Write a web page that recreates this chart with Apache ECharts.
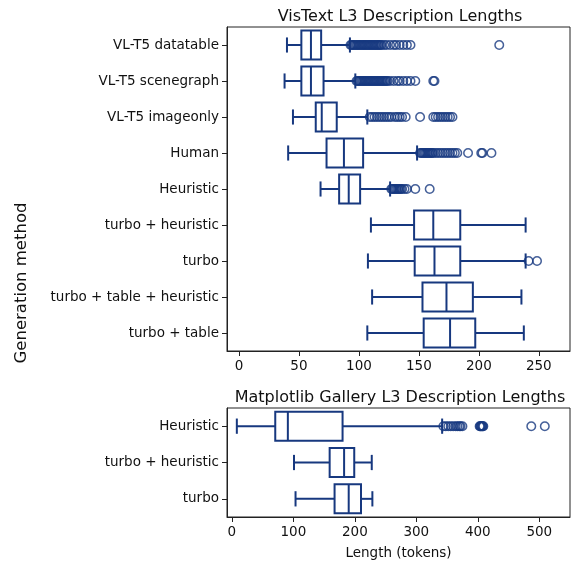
<!DOCTYPE html>
<html>
<head>
<meta charset="utf-8">
<script src="https://cdn.jsdelivr.net/npm/echarts@6/dist/echarts.min.js"></script>
<style>html,body{margin:0;padding:0;background:#fff}#c{width:571px;height:561px}</style>
</head>
<body>
<div id="c"></div>
<script>
// ---- Data: VisText L3 ----
const topCategories = ["VL-T5 datatable","VL-T5 scenegraph","VL-T5 imageonly","Human","Heuristic","turbo + heuristic","turbo","turbo + table + heuristic","turbo + table"];
// [min whisker, Q1, median, Q3, max whisker]
const topStats = [
  [40, 52, 60, 68.5, 92.5],
  [38, 52, 60, 70.5, 97],
  [45, 64, 69, 81.5, 107],
  [41, 73, 87.5, 103.5, 148.5],
  [68, 83.5, 91.5, 101, 126],
  [110, 146, 162, 184.5, 239],
  [107.5, 146.5, 163, 184.5, 239],
  [111, 153, 173, 195, 235.5],
  [107, 154, 176, 197, 237.5]
];
const topOutliers = [
  [93,94,95,96,97,98,99,100,101,102,103,104,105,106,107,108,109,110,111,112,113,114,115,116,117,118,119,121,123,126,129,131,134,137,140,143,217],
  [98,99,100,101,102,103,104,105,106,107,108,109,110,111,112,113,114,115,116,117,118,119,120,121,122,123,124,126,129,132,134,137,140,143,147,162,163],
  [109,111,113,115,117,119,121,123,125,127,130,132,134,136,139,151,162,164,166,168,170,172,174,176,178],
  [151,152,153,154,155,156,157,158,159,160,161,162,164,166,168,170,172,174,176,178,180,182,191,202,203,210.5],
  [127,128,129,130,131,132,133,134,135,136,138,140,147,159],
  [],
  [241.5,248.5],
  [],
  []
];
// ---- Data: Matplotlib Gallery L3 ----
const botCategories = ["Heuristic","turbo + heuristic","turbo"];
const botStats = [
  [8, 70.5, 91, 180, 342],
  [101, 159, 182.5, 199, 227.5],
  [103.5, 167, 190, 210, 228.5]
];
const botOutliers = [
  [344,348,352,356,360,364,367,370,372,375,403,404,405,406,407,408,409,487,509],
  [],
  []
];
const topTicks = [0,50,100,150,200,250];
const botTicks = [0,100,200,300,400,500];

// ---- Build ----
const C = '#17387f';
const FONT = 'DejaVu Sans';
const TICKFS = 13.5;
function boxData(stats){ return stats.map((s,i)=>[i].concat(s)); }
function outData(outs){ const r=[]; outs.forEach((arr,i)=>arr.forEach(v=>r.push([v,i]))); return r; }
function renderBox(params, api){
  const cat = api.value(0);
  const v = [1,2,3,4,5].map(i=>api.value(i));
  const band = api.size([0,1])[1];
  const h = band*0.8, ch = band*0.42;
  const p = v.map(x=>api.coord([x,cat]));
  const y = p[0][1];
  const st = {stroke:C, lineWidth:2, fill:null};
  return {type:'group', children:[
    {type:'line', shape:{x1:p[0][0],y1:y,x2:p[1][0],y2:y}, style:st},
    {type:'line', shape:{x1:p[3][0],y1:y,x2:p[4][0],y2:y}, style:st},
    {type:'line', shape:{x1:p[0][0],y1:y-ch/2,x2:p[0][0],y2:y+ch/2}, style:st},
    {type:'line', shape:{x1:p[4][0],y1:y-ch/2,x2:p[4][0],y2:y+ch/2}, style:st},
    {type:'rect', shape:{x:p[1][0],y:y-h/2,width:p[3][0]-p[1][0],height:h}, style:{stroke:C,lineWidth:2,fill:'#fff'}},
    {type:'line', shape:{x1:p[2][0],y1:y-h/2,x2:p[2][0],y2:y+h/2}, style:st}
  ]};
}
const axisLineStyle = {show:true, onZero:false, lineStyle:{color:'#222', width:1}};
function xAx(idx, min, max, ticks, extra){
  return Object.assign({
    type:'value', gridIndex:idx, min:min, max:max,
    splitLine:{show:false},
    axisLine:axisLineStyle,
    axisTick:{show:true, inside:false, length:5, lineStyle:{color:'#222'}, customValues:ticks},
    axisLabel:{color:'#111', fontSize:TICKFS, fontFamily:FONT, margin:8, customValues:ticks}
  }, extra||{});
}
function yAx(idx, cats){
  return {
    type:'category', gridIndex:idx, data:cats, inverse:true,
    axisLine:axisLineStyle,
    axisTick:{show:true, inside:false, length:5, alignWithLabel:true, lineStyle:{color:'#222'}},
    axisLabel:{color:'#111', fontSize:TICKFS, fontFamily:FONT, margin:8},
    splitLine:{show:false}
  };
}
const option = {
  animation:false,
  backgroundColor:'#fff',
  title:[
    {text:'VisText L3 Description Lengths', left:395, top:4, textAlign:'center', textStyle:{fontFamily:FONT, fontSize:16, fontWeight:'normal', color:'#111'}},
    {text:'Matplotlib Gallery L3 Description Lengths', left:395, top:385, textAlign:'center', textStyle:{fontFamily:FONT, fontSize:16, fontWeight:'normal', color:'#111'}}
  ],
  grid:[
    {left:227, top:27, width:343, height:324, show:true, borderColor:'#222', borderWidth:1, backgroundColor:'transparent'},
    {left:227, top:408, width:343, height:109, show:true, borderColor:'#222', borderWidth:1, backgroundColor:'transparent'}
  ],
  xAxis:[
    xAx(0, -10, 276, topTicks),
    xAx(1, -8, 550, botTicks, {name:'Length (tokens)', nameLocation:'middle', nameGap:29, nameTextStyle:{color:'#111', fontSize:TICKFS, fontFamily:FONT}})
  ],
  yAxis:[ yAx(0, topCategories), yAx(1, botCategories) ],
  graphic:[
    {type:'text', x:22, y:283, rotation:Math.PI/2, style:{text:'Generation method', font:'16.5px "DejaVu Sans"', fill:'#111', textAlign:'center', textVerticalAlign:'middle'}}
  ],
  series:[
    {type:'custom', xAxisIndex:0, yAxisIndex:0, renderItem:renderBox, data:boxData(topStats), encode:{x:[1,2,3,4,5], y:0}},
    {type:'scatter', xAxisIndex:0, yAxisIndex:0, data:outData(topOutliers), symbol:'circle', symbolSize:8.5, itemStyle:{color:'transparent', borderColor:C, borderWidth:1.5}, z:3},
    {type:'custom', xAxisIndex:1, yAxisIndex:1, renderItem:renderBox, data:boxData(botStats), encode:{x:[1,2,3,4,5], y:0}},
    {type:'scatter', xAxisIndex:1, yAxisIndex:1, data:outData(botOutliers), symbol:'circle', symbolSize:8.5, itemStyle:{color:'transparent', borderColor:C, borderWidth:1.5}, z:3}
  ]
};
const chart = echarts.init(document.getElementById('c'), null, {renderer:'canvas'});
chart.setOption(option);
</script>
</body>
</html>
